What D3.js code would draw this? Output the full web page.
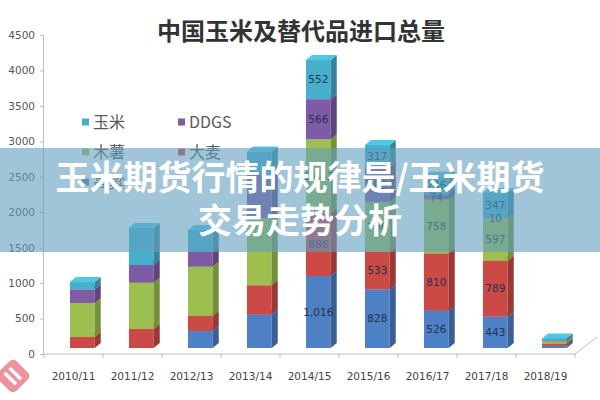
<!DOCTYPE html>
<html><head><meta charset="utf-8">
<script src="https://cdn.jsdelivr.net/npm/d3@7"></script>
<style>html,body{margin:0;padding:0;background:#fff;}svg{display:block;}</style>
</head><body>
<svg id="chart" width="600" height="400"></svg>
<script>
// ---- data ----
const categories = ["2010/11","2011/12","2012/13","2013/14","2014/15","2015/16","2016/17","2017/18","2018/19"];
const seriesNames = ["高粱","大麦","木薯","DDGS","玉米"]; // bottom -> top
const sorghum = [0, 0, 240, 470, 1016, 828, 526, 443, 30];
const barley  = [155, 268, 212, 415, 886, 533, 810, 789, 30];
const cassava = [480, 653, 695, 950, 1042, 700, 758, 597, 35];
const ddgs    = [189, 250, 212, 610, 566, 485, 74, 10, 5];
const corn    = [106, 522, 306, 327, 552, 317, 246, 347, 35];
const yTicks  = [0,500,1000,1500,2000,2500,3000,3500,4000,4500];
const labelledYears = ["2014/15","2015/16","2016/17","2017/18"];
const title = "中国玉米及替代品进口总量";
const bannerLines = ["玉米期货行情的规律是/玉米期货","交易走势分析"];

const seriesValues = [sorghum, barley, cassava, ddgs, corn];
const colors = ["#4d80c4","#cc4a45","#9cbf4f","#7f5ba6","#46b0cc"];

const svg = d3.select("#chart");
const fontCJK = "'Noto Sans CJK SC','Noto Sans',sans-serif";

const x = d3.scaleBand().domain(categories).range([44, 575]).padding(0);
const y = d3.scaleLinear().domain([0, 4500]).range([354, 35]);
const frontShift = -6, depthX = 6, depthY = 5;

const table = categories.map((c, i) => {
  const o = {cat: c};
  seriesNames.forEach((s, k) => o[s] = seriesValues[k][i]);
  return o;
});
const stacked = d3.stack().keys(seriesNames)(table);

// title
svg.append("text").attr("x", 301).attr("y", 40).attr("text-anchor","middle")
  .attr("font-family", fontCJK).attr("font-weight","bold").attr("font-size", 24)
  .attr("fill","#333").text(title);

// y axis
const yAxis = svg.append("g").attr("transform","translate(43,0)")
  .call(d3.axisLeft(y).tickValues(yTicks).tickSize(3).tickPadding(5).tickFormat(d3.format("d")));
yAxis.select(".domain").attr("stroke","#bdbdbd");
yAxis.selectAll(".tick line").attr("stroke","#bdbdbd");
yAxis.selectAll(".tick text").attr("font-family","'DejaVu Sans',sans-serif").attr("font-size",10.5).attr("fill","#555");

// x axis (floor edge)
const xg = svg.append("g");
xg.append("line").attr("x1",43).attr("x2",575).attr("y1",354).attr("y2",354).attr("stroke","#bdbdbd");
xg.append("line").attr("x1",575).attr("x2",597).attr("y1",354).attr("y2",337).attr("stroke","#bdbdbd");
categories.concat(["end"]).forEach((c,i)=>{
  const xp = i < categories.length ? x(c) : x.range()[1];
  xg.append("line").attr("x1",xp).attr("x2",xp).attr("y1",354).attr("y2",358).attr("stroke","#bdbdbd");
});
xg.selectAll("text.xl").data(categories).enter().append("text")
  .attr("x", d => x(d) + x.bandwidth()/2).attr("y", 380).attr("text-anchor","middle")
  .attr("font-family","'DejaVu Sans',sans-serif").attr("font-size",10.5).attr("fill","#444").text(d => d);

// bars
const bw = x.bandwidth();
const barsG = svg.append("g");
stacked.forEach((layer, k) => {
  const col = d3.color(colors[k]);
  const side = col.darker(0.8).formatHex();
  const top = col.brighter(0.35).formatHex();
  layer.forEach((d, i) => {
    const v0 = d[0], v1 = d[1];
    if (v1 - v0 <= 0) return;
    const xl = x(categories[i]) + bw*0.44, w = bw*0.42;
    const yt = y(v1) + frontShift, yb = y(v0) + frontShift;
    const g = barsG.append("g");
    g.append("rect").attr("x", xl).attr("y", yt).attr("width", w).attr("height", yb - yt).attr("fill", colors[k]);
    g.append("polygon").attr("points", [[xl+w,yt],[xl+w+depthX,yt-depthY],[xl+w+depthX,yb-depthY],[xl+w,yb]].map(p=>p.join(",")).join(" "))
      .attr("fill", side);
    g.append("polygon").attr("points", [[xl,yt],[xl+depthX,yt-depthY],[xl+w+depthX,yt-depthY],[xl+w,yt]].map(p=>p.join(",")).join(" "))
      .attr("fill", top);
  });
});

// data labels
const fmt = d3.format(",");
stacked.forEach((layer, k) => {
  layer.forEach((d, i) => {
    if (!labelledYears.includes(categories[i])) return;
    const v = d[1] - d[0];
    if (v <= 0) return;
    const xc = x(categories[i]) + bw*0.44 + bw*0.21;
    const yc = (y(d[0]) + y(d[1]))/2 + frontShift;
    barsG.append("text").attr("x", xc).attr("y", yc + 3.8).attr("text-anchor","middle")
      .attr("font-family","'DejaVu Sans',sans-serif").attr("font-size",10.5).attr("fill","#22324f")
      .text(fmt(v));
  });
});

// legend
const legendItems = [
  {name:"玉米", k:4, col:0, row:0},
  {name:"DDGS", k:3, col:1, row:0},
  {name:"木薯", k:2, col:0, row:1},
  {name:"大麦", k:1, col:1, row:1},
  {name:"高粱", k:0, col:0, row:2}
];
const lg = svg.append("g");
legendItems.forEach(it => {
  const lx = it.col === 0 ? 82 : 178;
  const ly = 122 + it.row*30;
  lg.append("rect").attr("x", lx).attr("y", ly-3.5).attr("width",7).attr("height",7).attr("fill", colors[it.k]);
  lg.append("text").attr("x", lx+11).attr("y", ly+5.5).attr("font-family", fontCJK).attr("font-size",16)
    .attr("fill","#595959").text(it.name);
});

// banner overlay
svg.append("rect").attr("x",0).attr("y",148).attr("width",600).attr("height",104)
  .attr("fill","rgb(98,158,190)").attr("fill-opacity",0.6);
bannerLines.forEach((t, i) => {
  svg.append("text").attr("x", 300).attr("y", 190 + i*43).attr("text-anchor","middle")
    .attr("font-family", fontCJK).attr("font-weight","bold").attr("font-size",34)
    .attr("fill","#fff").text(t);
});

// watermark logo
const wm = svg.append("g").attr("transform","translate(13,376) rotate(45)").attr("opacity",0.75);
wm.append("rect").attr("x",-13).attr("y",-13).attr("width",26).attr("height",26).attr("rx",5).attr("fill","#e8707a");
wm.append("rect").attr("x",-8).attr("y",-5).attr("width",16).attr("height",3.5).attr("fill","#fff");
wm.append("rect").attr("x",-8).attr("y",2).attr("width",16).attr("height",3.5).attr("fill","#fff");
</script>
</body></html>
